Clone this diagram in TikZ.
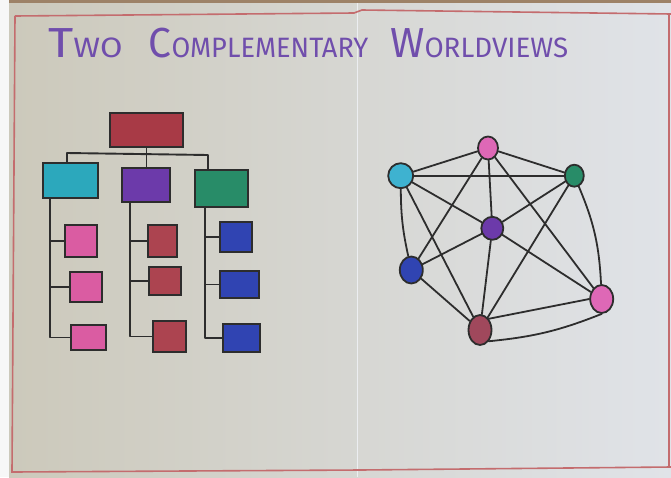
\documentclass[tikz,border=0pt]{standalone}
\usepackage{graphicx}
\usepackage{fontspec}
\setmainfont{Fira Sans}
\usetikzlibrary{shapes.geometric,backgrounds}

\definecolor{ink}{RGB}{45,45,45}
\definecolor{rim}{RGB}{196,108,110}
\definecolor{titlepurple}{RGB}{112,78,172}
\definecolor{paperL}{RGB}{204,201,187}
\definecolor{paperR}{RGB}{224,227,232}
\definecolor{cRoot}{RGB}{168,58,70}
\definecolor{cCyan}{RGB}{44,168,188}
\definecolor{cPurple}{RGB}{108,58,170}
\definecolor{cGreen}{RGB}{40,140,104}
\definecolor{cPink}{RGB}{218,92,162}
\definecolor{cMaroon}{RGB}{172,68,80}
\definecolor{cBlue}{RGB}{48,68,178}
\definecolor{gPink}{RGB}{222,104,182}
\definecolor{gCyan}{RGB}{62,178,208}
\definecolor{gMaroon}{RGB}{160,72,92}

% a word with a tall initial and small capitals, stretched horizontally
\newcommand{\capword}[3]{\scalebox{#1}[1]{{\fontsize{42}{42}\selectfont #2}{\fontsize{28}{28}\selectfont #3}}}

\tikzset{
  card/.style={rectangle, draw=ink, line width=1.8pt, inner sep=0pt},
  wire/.style={draw=ink, line width=1.9pt, line cap=round, line join=round},
  dot/.style={ellipse, draw=ink, line width=1.8pt, inner sep=0pt},
  link/.style={draw=ink, line width=1.8pt, line cap=round},
}

\begin{document}
\begin{tikzpicture}[x=1pt,y=-1pt]
\useasboundingbox (0,0) rectangle (671,477);

% sheet of paper
\begin{pgfonlayer}{background}
  \fill[white!94!gray] (0,0) rectangle (671,477);
  \fill[left color=paperL, right color=paperR] (9,3) rectangle (671,477);
  \fill[brown!60!black!70] (9,0) rectangle (671,3);
  \draw[white!40!paperR, line width=1pt] (357,3) -- (357,477);
  \draw[rim, line width=1.6pt] (15,16) -- (354,13) -- (362,10) -- (671,14);
  \draw[rim, line width=1.6pt] (15,16) -- (12,472) -- (360,470) -- (671,467);
  \draw[rim, line width=1.6pt] (669,14) -- (669,467);
\end{pgfonlayer}

% heading
\node[text=titlepurple, anchor=base west, inner sep=0pt] (title) at (48,57)
  {\capword{1.16}{T}{WO}\hspace{26pt}\capword{0.97}{C}{OMPLEMENTARY}\hspace{22pt}\capword{0.99}{W}{ORLDVIEWS}};

% hierarchy
\node[card, fill=cRoot, minimum width=73pt, minimum height=34pt] (root) at (146.5,130) {};
\node[card, fill=cCyan, minimum width=55pt, minimum height=35pt] (c1) at (70.5,180.5) {};
\node[card, fill=cPurple, minimum width=48pt, minimum height=34pt] (c2) at (146,185) {};
\node[card, fill=cGreen, minimum width=53pt, minimum height=37pt] (c3) at (221.5,188.5) {};

\node[card, fill=cPink, minimum width=32pt, minimum height=32pt] (g1) at (81,241) {};
\node[card, fill=cPink, minimum width=32pt, minimum height=30pt] (g2) at (86,287) {};
\node[card, fill=cPink, minimum width=35pt, minimum height=25pt] (g3) at (88.5,337.5) {};

\node[card, fill=cMaroon, minimum width=29pt, minimum height=32pt] (m1) at (162.5,241) {};
\node[card, fill=cMaroon, minimum width=32pt, minimum height=28pt] (m2) at (165,281) {};
\node[card, fill=cMaroon, minimum width=33pt, minimum height=31pt] (m3) at (169.5,336.5) {};

\node[card, fill=cBlue, minimum width=32pt, minimum height=30pt] (r1) at (236,237) {};
\node[card, fill=cBlue, minimum width=39pt, minimum height=27pt] (r2) at (239.5,284.5) {};
\node[card, fill=cBlue, minimum width=37pt, minimum height=28pt] (r3) at (241.5,338) {};

\coordinate (barL) at (67,153);
\coordinate (barR) at (208,155);
\coordinate (sL) at (50,0);
\coordinate (sM) at (130,0);
\coordinate (sR) at (205,0);

\begin{pgfonlayer}{background}
  \draw[wire] (root.south) -- (root.south |- barL);
  \draw[wire] (barL |- c1.north) -- (barL) -- (barR) -- (barR |- c3.north);
  \draw[wire] (root.south |- barL) -- (root.south |- c2.north);
  \draw[wire] (sL |- c1.south) -- (sL |- g3.west) -- (g3.west);
  \draw[wire] (sL |- g1.west) -- (g1.west);
  \draw[wire] (sL |- g2.west) -- (g2.west);
  \draw[wire] (sM |- c2.south) -- (sM |- m3.west) -- (m3.west);
  \draw[wire] (sM |- m1.west) -- (m1.west);
  \draw[wire] (sM |- m2.west) -- (m2.west);
  \draw[wire] (sR |- c3.south) -- (sR |- r3.west) -- (r3.west);
  \draw[wire] (sR |- r1.west) -- (r1.west);
  \draw[wire] (sR |- r2.west) -- (r2.west);
\end{pgfonlayer}

% network
\node[dot, fill=gPink, minimum width=20pt, minimum height=23pt] (nt) at (488,148) {};
\node[dot, fill=gCyan, minimum width=25pt, minimum height=25pt] (nc) at (400.7,175.7) {};
\node[dot, fill=cGreen, minimum width=19pt, minimum height=22pt] (ng) at (574.3,175.7) {};
\node[dot, fill=cPurple, minimum width=22pt, minimum height=23pt] (np) at (492.3,228.3) {};
\node[dot, fill=cBlue, minimum width=23pt, minimum height=27pt] (nb) at (411.3,270) {};
\node[dot, fill=gPink, minimum width=23pt, minimum height=28pt] (nr) at (601.7,299) {};
\node[dot, fill=gMaroon, minimum width=23pt, minimum height=30pt] (nm) at (480,330) {};

\begin{pgfonlayer}{background}
  \draw[link] (nt) -- (nc);
  \draw[link] (nt) -- (ng);
  \draw[link] (nt) -- (nb);
  \draw[link] (nt) -- (np);
  \draw[link] (nt) -- (nr);
  \draw[link] (nc) -- (ng);
  \draw[link] (nc) -- (np);
  \draw[link] (nc) to[bend right=6] (nb);
  \draw[link] (nc) -- (nm);
  \draw[link] (ng) -- (np);
  \draw[link] (ng) -- (nm);
  \draw[link] (ng) to[bend left=10] (nr);
  \draw[link] (np) -- (nb);
  \draw[link] (np) -- (nm);
  \draw[link] (np) -- (nr);
  \draw[link] (nb) -- (nm);
  \draw[link] (nm.north east) -- (nr.west);
  \draw[link] (nm.south east) to[bend right=8] (nr.south);
\end{pgfonlayer}

\end{tikzpicture}
\end{document}
